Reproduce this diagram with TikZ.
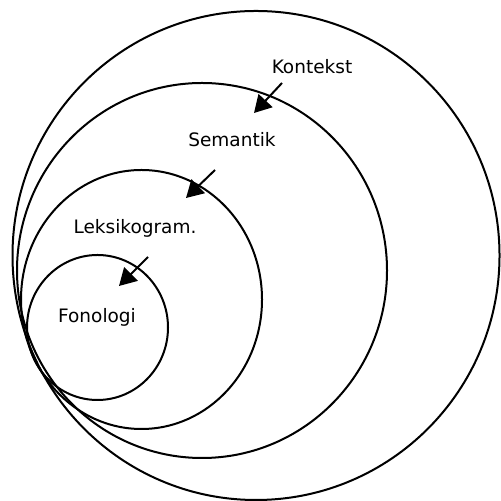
\documentclass[tikz,border=0pt]{standalone}
\usepackage{fontspec}
\setmainfont{DejaVu Sans}
\usetikzlibrary{arrows.meta}

\begin{document}
\begin{tikzpicture}[x=0.5pt,y=0.5pt]
% define styles
\tikzstyle{ring}=[draw, line width=1pt]
\tikzstyle{lbl}=[font=\fontsize{9.25}{11}\selectfont, inner sep=0pt]
\tikzstyle{a}=[line width=1pt, -{Triangle[length=8.5pt, width=9.5pt]}]
\useasboundingbox (0,0) rectangle (500,501);
% rings
\draw[ring] (256,245.5) ellipse [x radius=243.5, y radius=244.5];
\draw[ring] (202,230.5) ellipse [x radius=185, y radius=187.5];
\draw[ring] (141.5,201.5) ellipse [x radius=120.5, y radius=129.5];
\draw[ring] (97.5,173.5) ellipse [x radius=70.5, y radius=72.5];
% labels
\node[lbl] (kontekst) at (312,434) {Kontekst};
\node[lbl] (semantik) at (232,361) {Semantik};
\node[lbl] (leksiko) at (135,273) {Leksikogram.};
\node[lbl] (fonologi) at (97,184) {Fonologi};
% arrow ends
\coordinate (k1) at (282,418);
\coordinate (k2) at (254,388);
\coordinate (s1) at (215,331);
\coordinate (s2) at (186,303);
\coordinate (l1) at (148,244);
\coordinate (l2) at (119,215);
% arrows
\draw[a] (k1) -- (k2);
\draw[a] (s1) -- (s2);
\draw[a] (l1) -- (l2);
\end{tikzpicture}
\end{document}
